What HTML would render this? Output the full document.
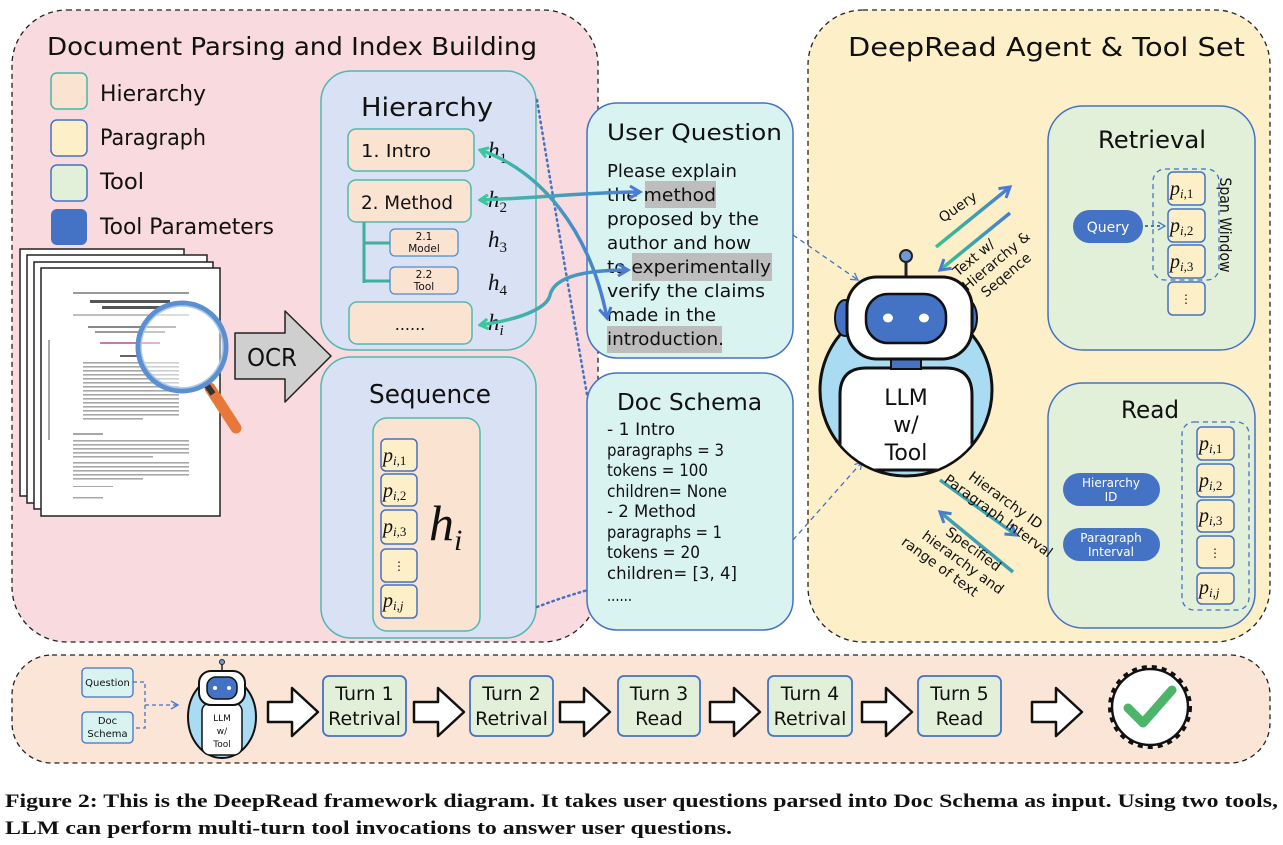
<!DOCTYPE html>
<html><head><meta charset="utf-8"><style>
html,body{margin:0;padding:0;background:#fff;width:1283px;height:845px;overflow:hidden}
svg{display:block}
.c{font-family:"DejaVu Sans","Liberation Sans",sans-serif;fill:#111}
.m{font-family:"Liberation Serif",serif;font-style:italic;fill:#111}
</style></head><body>
<svg width="1283" height="845" viewBox="0 0 1283 845" xmlns="http://www.w3.org/2000/svg">
<defs>
<linearGradient id="g1" x1="0" y1="0" x2="1" y2="0"><stop offset="0" stop-color="#3cc79e"/><stop offset="1" stop-color="#4a7bd4"/></linearGradient>
<linearGradient id="gq" x1="0" y1="1" x2="1" y2="0"><stop offset="0" stop-color="#34c48c"/><stop offset="1" stop-color="#4a7bd4"/></linearGradient>
<marker id="ab" markerWidth="10" markerHeight="10" refX="8" refY="5" orient="auto" markerUnits="userSpaceOnUse"><path d="M1,1 L8,5 L1,9" fill="none" stroke="#4a7bd4" stroke-width="2.5"/></marker>
<marker id="at" markerWidth="12" markerHeight="12" refX="2" refY="6" orient="auto" markerUnits="userSpaceOnUse"><path d="M10,1 L2,6 L10,11" fill="none" stroke="#3cc79e" stroke-width="3"/></marker>
<marker id="ad" markerWidth="10" markerHeight="10" refX="8" refY="5" orient="auto" markerUnits="userSpaceOnUse"><path d="M1,1 L8,5 L1,9" fill="none" stroke="#4a7bd4" stroke-width="1.3"/></marker>
<marker id="ah" markerWidth="16" markerHeight="16" refX="12" refY="8" orient="auto" markerUnits="userSpaceOnUse"><path d="M2,2 L12,8 L2,14" fill="none" stroke="#4a7bd4" stroke-width="3"/></marker>
</defs>

<!-- Left panel -->
<rect x="12" y="10" width="586" height="632" rx="55" fill="#f9dade" stroke="#222" stroke-width="1.3" stroke-dasharray="5 4"/>
<text class="c" x="47" y="55" font-size="25" textLength="490" lengthAdjust="spacingAndGlyphs">Document Parsing and Index Building</text>
<rect x="51" y="73" width="36" height="36" rx="6" fill="#fbe3d2" stroke="#45b8a8" stroke-width="1.5"/>
<rect x="51" y="120" width="36" height="36" rx="6" fill="#fdf0c8" stroke="#4472c4" stroke-width="1.5"/>
<rect x="51" y="165" width="36" height="36" rx="6" fill="#e2f0d9" stroke="#4472c4" stroke-width="1.5"/>
<rect x="51" y="209" width="36" height="36" rx="6" fill="#4472c4"/>
<text class="c" x="100" y="101" font-size="22" textLength="106" lengthAdjust="spacingAndGlyphs">Hierarchy</text>
<text class="c" x="100" y="145" font-size="22" textLength="106" lengthAdjust="spacingAndGlyphs">Paragraph</text>
<text class="c" x="100" y="189" font-size="22" textLength="44" lengthAdjust="spacingAndGlyphs">Tool</text>
<text class="c" x="100" y="234" font-size="22" textLength="174" lengthAdjust="spacingAndGlyphs">Tool Parameters</text>

<!-- pages -->
<rect x="20" y="249" width="164" height="247" fill="#fff" stroke="#222" stroke-width="1.5"/>
<rect x="27" y="255" width="180" height="248" fill="#fff" stroke="#222" stroke-width="1.5"/>
<rect x="34" y="262" width="179" height="247" fill="#fff" stroke="#222" stroke-width="1.5"/>
<rect x="41" y="268" width="179" height="248" fill="#fff" stroke="#222" stroke-width="1.5"/>
<line x1="73" y1="293" x2="189" y2="293" stroke="#333" stroke-width="1"/>
<rect x="90" y="300" width="80" height="3" fill="#555"/>
<rect x="102" y="306" width="60" height="3" fill="#555"/>
<line x1="73" y1="315" x2="189" y2="315" stroke="#555" stroke-width="0.7"/>
<rect x="88" y="326" width="88" height="2" fill="#888"/>
<rect x="95" y="331" width="70" height="2" fill="#999"/>
<rect x="100" y="342" width="60" height="2" fill="#c7a"/>
<rect x="120" y="355" width="20" height="2" fill="#666"/>
<g fill="#a8a8a8">
<rect x="83" y="362" width="96" height="1.6"/><rect x="83" y="366" width="96" height="1.6"/><rect x="83" y="370" width="96" height="1.6"/><rect x="83" y="374" width="96" height="1.6"/><rect x="83" y="378" width="96" height="1.6"/><rect x="83" y="382" width="96" height="1.6"/><rect x="83" y="386" width="96" height="1.6"/><rect x="83" y="390" width="96" height="1.6"/><rect x="83" y="394" width="96" height="1.6"/><rect x="83" y="398" width="96" height="1.6"/><rect x="83" y="402" width="96" height="1.6"/><rect x="83" y="406" width="96" height="1.6"/><rect x="83" y="410" width="96" height="1.6"/><rect x="83" y="414" width="96" height="1.6"/><rect x="83" y="418" width="60" height="1.6"/>
<rect x="73" y="433" width="30" height="2"/>
<rect x="73" y="440" width="116" height="1.6"/><rect x="73" y="444" width="116" height="1.6"/><rect x="73" y="448" width="116" height="1.6"/><rect x="73" y="452" width="116" height="1.6"/><rect x="73" y="456" width="80" height="1.6"/>
<rect x="73" y="462" width="116" height="1.6"/><rect x="73" y="466" width="116" height="1.6"/><rect x="73" y="470" width="116" height="1.6"/><rect x="73" y="474" width="116" height="1.6"/><rect x="73" y="478" width="70" height="1.6"/>
<rect x="73" y="486" width="40" height="1"/><rect x="73" y="497" width="30" height="1.5"/>
<rect x="48" y="340" width="2" height="100"/>
</g>
<!-- magnifier -->
<line x1="210" y1="388" x2="236" y2="428" stroke="#e8773a" stroke-width="11" stroke-linecap="round"/>
<line x1="204" y1="381" x2="213" y2="394" stroke="#333" stroke-width="6"/>
<circle cx="182" cy="347" r="44" fill="rgba(255,255,255,0.45)" stroke="#5b8fd0" stroke-width="5"/>
<circle cx="182" cy="347" r="41" fill="none" stroke="#aac8ee" stroke-width="1.5"/>

<!-- OCR arrow -->
<path d="M235,333 L285,333 L285,311 L331,356 L285,402 L285,379 L235,379 Z" fill="#cfcfcf" stroke="#222" stroke-width="1.5" stroke-linejoin="round"/>
<text class="c" x="247" y="366" font-size="25" textLength="50" lengthAdjust="spacingAndGlyphs">OCR</text>

<!-- Hierarchy box -->
<rect x="321" y="71" width="215" height="279" rx="30" fill="#d9e1f4" stroke="#4fb9b0" stroke-width="1.5"/>
<text class="c" x="427" y="116" font-size="26" text-anchor="middle" textLength="132" lengthAdjust="spacingAndGlyphs">Hierarchy</text>
<rect x="348" y="129" width="126" height="42" rx="8" fill="#fbe3d2" stroke="#4fb9b0" stroke-width="1.5"/>
<text class="c" x="361" y="157" font-size="18" textLength="70" lengthAdjust="spacingAndGlyphs">1. Intro</text>
<rect x="348" y="180" width="123" height="42" rx="8" fill="#fbe3d2" stroke="#4fb9b0" stroke-width="1.5"/>
<text class="c" x="361" y="209" font-size="19" textLength="92" lengthAdjust="spacingAndGlyphs">2. Method</text>
<path d="M364,222 V283 M364,243 H390 M364,281 H390" stroke="#3fb0a0" stroke-width="3" fill="none"/>
<rect x="390" y="229" width="68" height="27" rx="5" fill="#fbe3d2" stroke="#4a8fd0" stroke-width="1.3"/>
<text class="c" x="424" y="240" font-size="10.5" text-anchor="middle">2.1</text>
<text class="c" x="424" y="252" font-size="10.5" text-anchor="middle">Model</text>
<rect x="390" y="267" width="68" height="27" rx="5" fill="#fbe3d2" stroke="#4a8fd0" stroke-width="1.3"/>
<text class="c" x="424" y="278" font-size="10.5" text-anchor="middle">2.2</text>
<text class="c" x="424" y="290" font-size="10.5" text-anchor="middle">Tool</text>
<rect x="349" y="302" width="123" height="42" rx="8" fill="#fbe3d2" stroke="#4fb9b0" stroke-width="1.5"/>
<text class="c" x="410" y="330" font-size="16" text-anchor="middle">......</text>
<text class="m" x="488" y="158" font-size="23">h<tspan font-size="15" dy="5" font-style="normal">1</tspan></text>
<text class="m" x="488" y="207" font-size="23">h<tspan font-size="15" dy="5" font-style="normal">2</tspan></text>
<text class="m" x="488" y="247" font-size="23">h<tspan font-size="15" dy="5" font-style="normal">3</tspan></text>
<text class="m" x="488" y="290" font-size="23">h<tspan font-size="15" dy="5" font-style="normal">4</tspan></text>
<text class="m" x="488" y="330" font-size="23">h<tspan font-size="15" dy="5">i</tspan></text>

<!-- Sequence box -->
<rect x="321" y="357" width="215" height="281" rx="30" fill="#d9e1f4" stroke="#4fb9b0" stroke-width="1.5"/>
<text class="c" x="430" y="403" font-size="26" text-anchor="middle" textLength="122" lengthAdjust="spacingAndGlyphs">Sequence</text>
<rect x="373" y="418" width="107" height="213" rx="14" fill="#fbe3d2" stroke="#4fb9b0" stroke-width="1.5"/>
<g fill="#fdf0c8" stroke="#4472c4" stroke-width="1.5">
<rect x="381" y="439" width="36" height="32" rx="5"/><rect x="381" y="474" width="36" height="32" rx="5"/><rect x="381" y="510" width="36" height="34" rx="5"/><rect x="381" y="549" width="36" height="33" rx="5"/><rect x="381" y="585" width="36" height="33" rx="5"/>
</g>
<text class="m" x="383" y="462" font-size="20">p<tspan font-size="13" dy="3">i</tspan><tspan font-size="13" font-style="normal">,1</tspan></text>
<text class="m" x="383" y="497" font-size="20">p<tspan font-size="13" dy="3">i</tspan><tspan font-size="13" font-style="normal">,2</tspan></text>
<text class="m" x="383" y="533" font-size="20">p<tspan font-size="13" dy="3">i</tspan><tspan font-size="13" font-style="normal">,3</tspan></text>
<text class="c" x="399" y="570" font-size="12" text-anchor="middle">⋮</text>
<text class="m" x="383" y="607" font-size="20">p<tspan font-size="13" dy="3">i,j</tspan></text>
<text class="m" x="429" y="540" font-size="50">h<tspan font-size="30" dy="10">i</tspan></text>

<!-- dotted connectors -->
<path d="M537,100 Q560,240 588,400" fill="none" stroke="#4472c4" stroke-width="2.5" stroke-dasharray="1.5 4" stroke-linecap="round"/>
<path d="M537,607 Q560,598 588,590" fill="none" stroke="#4472c4" stroke-width="2.5" stroke-dasharray="1.5 4" stroke-linecap="round"/>

<!-- User question -->
<rect x="587" y="103" width="206" height="255" rx="30" fill="#d9f3f0" stroke="#4472c4" stroke-width="1.5"/>
<text class="c" x="607" y="140" font-size="22" textLength="175" lengthAdjust="spacingAndGlyphs">User Question</text>
<rect x="645" y="181" width="71" height="27" fill="#bdbdbd"/>
<rect x="632" y="253" width="140" height="28" fill="#bdbdbd"/>
<rect x="607" y="326" width="115" height="27" fill="#bdbdbd"/>
<g class="c" font-size="18">
<text class="c" x="607" y="177" textLength="130" lengthAdjust="spacingAndGlyphs">Please explain</text>
<text class="c" x="607" y="201" textLength="109" lengthAdjust="spacingAndGlyphs">the method</text>
<text class="c" x="607" y="225" textLength="152" lengthAdjust="spacingAndGlyphs">proposed by the</text>
<text class="c" x="607" y="249" textLength="144" lengthAdjust="spacingAndGlyphs">author and how</text>
<text class="c" x="607" y="273" textLength="164" lengthAdjust="spacingAndGlyphs">to experimentally</text>
<text class="c" x="607" y="297" textLength="158" lengthAdjust="spacingAndGlyphs">verify the claims</text>
<text class="c" x="607" y="321" textLength="109" lengthAdjust="spacingAndGlyphs">made in the</text>
<text class="c" x="607" y="345" textLength="117" lengthAdjust="spacingAndGlyphs">introduction.</text>
</g>

<!-- Doc schema -->
<rect x="587" y="373" width="206" height="257" rx="30" fill="#d9f3f0" stroke="#4472c4" stroke-width="1.5"/>
<text class="c" x="617" y="410" font-size="23" textLength="145" lengthAdjust="spacingAndGlyphs">Doc Schema</text>
<g font-size="17">
<text class="c" x="607" y="435" textLength="68" lengthAdjust="spacingAndGlyphs">- 1 Intro</text>
<text class="c" x="607" y="456" textLength="117" lengthAdjust="spacingAndGlyphs">paragraphs = 3</text>
<text class="c" x="607" y="476" textLength="101" lengthAdjust="spacingAndGlyphs">tokens = 100</text>
<text class="c" x="607" y="497" textLength="120" lengthAdjust="spacingAndGlyphs">children= None</text>
<text class="c" x="607" y="517" textLength="89" lengthAdjust="spacingAndGlyphs">- 2 Method</text>
<text class="c" x="607" y="538" textLength="115" lengthAdjust="spacingAndGlyphs">paragraphs = 1</text>
<text class="c" x="607" y="558" textLength="93" lengthAdjust="spacingAndGlyphs">tokens = 20</text>
<text class="c" x="607" y="579" textLength="130" lengthAdjust="spacingAndGlyphs">children= [3,  4]</text>
<text class="c" x="607" y="601" textLength="25" lengthAdjust="spacingAndGlyphs">......</text>
</g>

<!-- teal/blue double arrows -->
<path d="M480,150 C540,170 590,230 607,318" fill="none" stroke="url(#g1)" stroke-width="3.5" marker-start="url(#at)" marker-end="url(#ah)"/>
<path d="M480,200 C540,198 590,192 640,192" fill="none" stroke="url(#g1)" stroke-width="3.5" marker-start="url(#at)" marker-end="url(#ah)"/>
<path d="M480,325 C530,318 548,305 550,295 C555,275 590,270 628,270" fill="none" stroke="url(#g1)" stroke-width="3.5" marker-start="url(#at)" marker-end="url(#ah)"/>

<!-- Right panel -->
<rect x="808" y="10" width="462" height="632" rx="55" fill="#fdf0c9" stroke="#222" stroke-width="1.3" stroke-dasharray="5 4"/>
<text class="c" x="848" y="56" font-size="26" textLength="397" lengthAdjust="spacingAndGlyphs">DeepRead Agent &amp; Tool Set</text>

<line x1="793" y1="235" x2="858" y2="280" stroke="#4472c4" stroke-width="1.3" stroke-dasharray="5 4" marker-end="url(#ad)"/>
<line x1="793" y1="540" x2="862" y2="462" stroke="#4472c4" stroke-width="1.3" stroke-dasharray="5 4" marker-end="url(#ad)"/>

<!-- Retrieval -->
<rect x="1048" y="106" width="207" height="244" rx="35" fill="#e2efd9" stroke="#4472c4" stroke-width="1.5"/>
<text class="c" x="1152" y="148" font-size="24" text-anchor="middle" textLength="108" lengthAdjust="spacingAndGlyphs">Retrieval</text>
<rect x="1073" y="210" width="70" height="33" rx="16.5" fill="#4472c4"/>
<text x="1108" y="232" font-size="14" text-anchor="middle" fill="#fff" font-family="DejaVu Sans,sans-serif">Query</text>
<line x1="1145" y1="226" x2="1165" y2="226" stroke="#4472c4" stroke-width="2" stroke-dasharray="3 3" marker-end="url(#ad)"/>
<rect x="1153" y="169" width="66" height="111" rx="12" fill="none" stroke="#4472c4" stroke-width="1.3" stroke-dasharray="5 4"/>
<g fill="#fdf0c8" stroke="#4472c4" stroke-width="1.5">
<rect x="1168" y="172" width="37" height="33" rx="5"/><rect x="1168" y="209" width="37" height="33" rx="5"/><rect x="1168" y="245" width="37" height="33" rx="5"/><rect x="1168" y="282" width="37" height="33" rx="5"/>
</g>
<text class="m" x="1170" y="195" font-size="20">p<tspan font-size="13" dy="3">i</tspan><tspan font-size="13" font-style="normal">,1</tspan></text>
<text class="m" x="1170" y="232" font-size="20">p<tspan font-size="13" dy="3">i</tspan><tspan font-size="13" font-style="normal">,2</tspan></text>
<text class="m" x="1170" y="268" font-size="20">p<tspan font-size="13" dy="3">i</tspan><tspan font-size="13" font-style="normal">,3</tspan></text>
<text class="c" x="1186" y="303" font-size="12" text-anchor="middle">⋮</text>
<text class="c" x="1225" y="225" font-size="16" text-anchor="middle" transform="rotate(90 1225 225)" textLength="95" lengthAdjust="spacingAndGlyphs" dy="5">Span Window</text>

<!-- Read -->
<rect x="1048" y="383" width="207" height="245" rx="35" fill="#e2efd9" stroke="#4472c4" stroke-width="1.5"/>
<text class="c" x="1150" y="418" font-size="24" text-anchor="middle" textLength="58" lengthAdjust="spacingAndGlyphs">Read</text>
<rect x="1063" y="473" width="97" height="33" rx="16.5" fill="#4472c4"/>
<text x="1111" y="487" font-size="12" text-anchor="middle" fill="#fff" font-family="DejaVu Sans,sans-serif">Hierarchy</text>
<text x="1111" y="501" font-size="12" text-anchor="middle" fill="#fff" font-family="DejaVu Sans,sans-serif">ID</text>
<rect x="1063" y="528" width="97" height="33" rx="16.5" fill="#4472c4"/>
<text x="1111" y="542" font-size="12" text-anchor="middle" fill="#fff" font-family="DejaVu Sans,sans-serif">Paragraph</text>
<text x="1111" y="556" font-size="12" text-anchor="middle" fill="#fff" font-family="DejaVu Sans,sans-serif">Interval</text>
<rect x="1182" y="422" width="67" height="188" rx="12" fill="none" stroke="#4472c4" stroke-width="1.3" stroke-dasharray="5 4"/>
<g fill="#fdf0c8" stroke="#4472c4" stroke-width="1.5">
<rect x="1197" y="427" width="37" height="33" rx="5"/><rect x="1197" y="464" width="37" height="33" rx="5"/><rect x="1197" y="500" width="37" height="32" rx="5"/><rect x="1197" y="536" width="37" height="32" rx="5"/><rect x="1197" y="573" width="37" height="31" rx="5"/>
</g>
<text class="m" x="1199" y="450" font-size="20">p<tspan font-size="13" dy="3">i</tspan><tspan font-size="13" font-style="normal">,1</tspan></text>
<text class="m" x="1199" y="487" font-size="20">p<tspan font-size="13" dy="3">i</tspan><tspan font-size="13" font-style="normal">,2</tspan></text>
<text class="m" x="1199" y="522" font-size="20">p<tspan font-size="13" dy="3">i</tspan><tspan font-size="13" font-style="normal">,3</tspan></text>
<text class="c" x="1215" y="557" font-size="12" text-anchor="middle">⋮</text>
<text class="m" x="1199" y="594" font-size="20">p<tspan font-size="13" dy="3">i,j</tspan></text>

<!-- arrows near robot -->
<line x1="936" y1="247" x2="1010" y2="187" stroke="url(#gq)" stroke-width="3.5" marker-end="url(#ah)"/>
<line x1="1010" y1="213" x2="940" y2="270" stroke="url(#gq)" stroke-width="3.5" marker-end="url(#ah)"/>
<line x1="940" y1="480" x2="1016" y2="535" stroke="url(#gq)" stroke-width="3.5" marker-end="url(#ah)"/>
<line x1="1013" y1="572" x2="940" y2="512" stroke="url(#gq)" stroke-width="3.5" marker-end="url(#ah)"/>
<text class="c" font-size="14" transform="translate(943,223) rotate(-35)">Query</text>
<g transform="translate(958,277) rotate(-40)">
<text class="c" font-size="14" x="0" y="0">Text w/</text>
<text class="c" font-size="14" x="-2" y="17">Hierarchy &amp;</text>
<text class="c" font-size="14" x="8" y="34">Seqence</text>
</g>
<g transform="translate(945,462) rotate(36)">
<text class="c" font-size="14" x="28" y="0">Hierarchy ID</text>
<text class="c" font-size="14" x="10" y="17">Paragraph Interval</text>
</g>
<g transform="translate(935,527) rotate(36)">
<text class="c" font-size="14" x="12" y="0">Specified</text>
<text class="c" font-size="14" x="-5" y="17">hierarchy and</text>
<text class="c" font-size="14" x="-18" y="34">range of text</text>
</g>

<!-- Robot -->
<line x1="906" y1="260" x2="906" y2="278" stroke="#222" stroke-width="3"/>
<circle cx="906" cy="256" r="6" fill="#6f9ad6" stroke="#222" stroke-width="2"/>
<circle cx="906" cy="390" r="86" fill="#a9dcf2" stroke="#111" stroke-width="3"/>
<clipPath id="rc"><circle cx="906" cy="390" r="85"/></clipPath>
<g clip-path="url(#rc)">
<path d="M840,470 V395 Q840,368 866,368 H946 Q972,368 972,395 V470 Z" fill="#fff" stroke="#111" stroke-width="3"/>
</g>
<rect x="891" y="357" width="30" height="12" fill="#4472c4" stroke="#111" stroke-width="2"/>
<ellipse cx="845" cy="318" rx="10" ry="18" fill="#4472c4" stroke="#111" stroke-width="2"/>
<ellipse cx="967" cy="318" rx="10" ry="18" fill="#4472c4" stroke="#111" stroke-width="2"/>
<rect x="847" y="277" width="125" height="82" rx="30" fill="#fff" stroke="#111" stroke-width="3"/>
<rect x="866" y="294" width="80" height="49" rx="22" fill="#4472c4" stroke="#111" stroke-width="2.5"/>
<ellipse cx="888" cy="318" rx="5" ry="4.5" fill="#fff"/>
<ellipse cx="924" cy="318" rx="5" ry="4.5" fill="#fff"/>
<text class="c" x="906" y="405" font-size="22" text-anchor="middle">LLM</text>
<text class="c" x="906" y="432" font-size="22" text-anchor="middle">w/</text>
<text class="c" x="906" y="460" font-size="22" text-anchor="middle">Tool</text>

<!-- Bottom bar -->
<rect x="12" y="655" width="1258" height="108" rx="40" fill="#fbe5d6" stroke="#222" stroke-width="1.3" stroke-dasharray="5 4"/>
<rect x="82" y="668" width="51" height="29" rx="4" fill="#d9f3f0" stroke="#4472c4" stroke-width="1.3"/>
<text class="c" x="107.5" y="686" font-size="10" text-anchor="middle">Question</text>
<rect x="82" y="712" width="51" height="31" rx="4" fill="#d9f3f0" stroke="#4472c4" stroke-width="1.3"/>
<text class="c" x="107.5" y="724" font-size="10" text-anchor="middle">Doc</text>
<text class="c" x="107.5" y="737" font-size="10" text-anchor="middle">Schema</text>
<path d="M133,682 H145 V728 H133 M145,705 H178" fill="none" stroke="#4472c4" stroke-width="1.3" stroke-dasharray="4 3" marker-end="url(#ad)"/>
<line x1="222" y1="663" x2="222" y2="671" stroke="#222" stroke-width="1.5"/>
<circle cx="222" cy="662" r="2.5" fill="#6f9ad6" stroke="#222"/>
<ellipse cx="222" cy="717" rx="34" ry="41" fill="#a9dcf2" stroke="#111" stroke-width="2"/>
<rect x="202" y="703" width="40" height="52" rx="8" fill="#fff" stroke="#111" stroke-width="1.5"/>
<rect x="199" y="671" width="46" height="34" rx="12" fill="#fff" stroke="#111" stroke-width="2"/>
<rect x="207" y="677" width="30" height="22" rx="9" fill="#4472c4" stroke="#111" stroke-width="1.5"/>
<circle cx="215" cy="688" r="2" fill="#fff"/><circle cx="229" cy="688" r="2" fill="#fff"/>
<text class="c" x="222" y="721" font-size="9" text-anchor="middle">LLM</text>
<text class="c" x="222" y="734" font-size="9" text-anchor="middle">w/</text>
<text class="c" x="222" y="747" font-size="9" text-anchor="middle">Tool</text>

<g fill="#fff" stroke="#111" stroke-width="2.5" stroke-linejoin="round">
<path d="M268,702 H292 V688 L318,712 L292,736 V722 H268 Z"/>
<path d="M414,702 H438 V688 L464,712 L438,736 V722 H414 Z"/>
<path d="M560,702 H584 V688 L610,712 L584,736 V722 H560 Z"/>
<path d="M710,702 H734 V688 L760,712 L734,736 V722 H710 Z"/>
<path d="M862,702 H886 V688 L912,712 L886,736 V722 H862 Z"/>
<path d="M1032,702 H1056 V688 L1082,712 L1056,736 V722 H1032 Z"/>
</g>
<g fill="#e2efd9" stroke="#4472c4" stroke-width="1.8">
<rect x="323" y="676" width="83" height="60" rx="6"/>
<rect x="470" y="676" width="83" height="60" rx="6"/>
<rect x="618" y="676" width="82" height="60" rx="6"/>
<rect x="768" y="676" width="84" height="60" rx="6"/>
<rect x="918" y="676" width="83" height="60" rx="6"/>
</g>
<g font-size="19">
<text class="c" x="364.5" y="700" text-anchor="middle">Turn 1</text><text class="c" x="364.5" y="725" text-anchor="middle">Retrival</text>
<text class="c" x="511.5" y="700" text-anchor="middle">Turn 2</text><text class="c" x="511.5" y="725" text-anchor="middle">Retrival</text>
<text class="c" x="659" y="700" text-anchor="middle">Turn 3</text><text class="c" x="659" y="725" text-anchor="middle">Read</text>
<text class="c" x="810" y="700" text-anchor="middle">Turn 4</text><text class="c" x="810" y="725" text-anchor="middle">Retrival</text>
<text class="c" x="959.5" y="700" text-anchor="middle">Turn 5</text><text class="c" x="959.5" y="725" text-anchor="middle">Read</text>
</g>
<!-- badge -->
<circle cx="1150" cy="707" r="40" fill="#fff" stroke="#111" stroke-width="4" stroke-dasharray="5 5"/>
<circle cx="1150" cy="707" r="38" fill="#fff" stroke="#111" stroke-width="2.5"/>
<path d="M1128,708 L1143,723 L1172,690" fill="none" stroke="#4cb56a" stroke-width="9" stroke-linecap="round" stroke-linejoin="round"/>

<!-- caption -->
<text x="5" y="807" font-family="Liberation Serif,serif" font-weight="bold" font-size="19" fill="#111" textLength="1273" lengthAdjust="spacingAndGlyphs">Figure 2: This is the DeepRead framework diagram. It takes user questions parsed into Doc Schema as input. Using two tools,</text>
<text x="5" y="834" font-family="Liberation Serif,serif" font-weight="bold" font-size="19" fill="#111" textLength="727" lengthAdjust="spacingAndGlyphs">LLM can perform multi-turn tool invocations to answer user questions.</text>
</svg>
</body></html>
